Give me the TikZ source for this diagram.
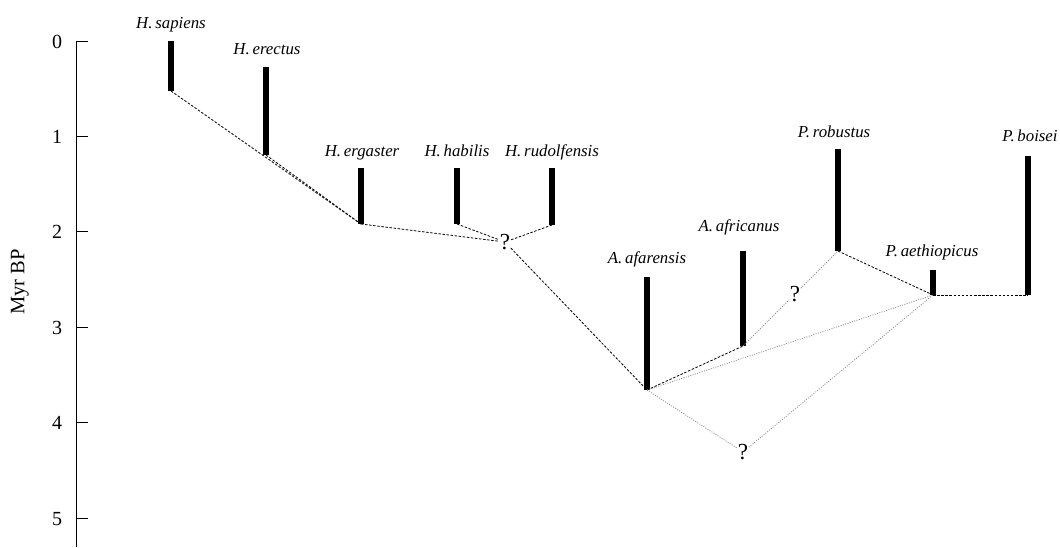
\documentclass[tikz,border=0pt]{standalone}
\usepackage{fontspec}
\setmainfont{Liberation Serif}
\begin{document}
\begin{tikzpicture}[x=1pt,y=-1pt,
  axisline/.style={line width=1pt,black},
  barline/.style={line width=6.5pt,black,line cap=butt},
  lab/.style={font=\fontsize{16.8}{19}\selectfont\itshape,anchor=base,inner sep=0pt},
  ticklab/.style={font=\fontsize{20}{23}\selectfont,anchor=base,inner sep=0pt},
  qmark/.style={font=\fontsize{23}{26}\selectfont,inner sep=0.5pt},
  dashlink/.style={line width=0.8pt,black,dash pattern=on 2.5pt off 1.6pt},
  dotlink/.style={line width=0.8pt,black!45,dash pattern=on 1pt off 1.4pt}]
\useasboundingbox (0,0) rectangle (1060,547);
% axis
\coordinate (axT) at (76,41);
\coordinate (axB) at (76,547);
\draw[axisline] (axT) -- (axB);
\foreach \t/\y in {0/41,1/136.4,2/231.8,3/327.2,4/422.6,5/518}{
  \draw[axisline] (76,\y) -- (88,\y);
  \node[ticklab] (tick\t) at (57,\y+7) {\t};
}
\node[font=\fontsize{20.5}{23}\selectfont,rotate=90] (ylab) at (20,282) {Myr BP};
% bars
\draw[barline] (171,41) -- (171,91) coordinate (sapB);
\draw[barline] (266,67) -- (266,155) coordinate (ereB);
\draw[barline] (361,168) -- (361,224) coordinate (ergB);
\draw[barline] (457,168) -- (457,224) coordinate (habB);
\draw[barline] (552,168) -- (552,225) coordinate (rudB);
\draw[barline] (647,277) -- (647,390) coordinate (afaB);
\draw[barline] (743,251) -- (743,346) coordinate (afrB);
\draw[barline] (838,149) -- (838,251) coordinate (robB);
\draw[barline] (933,270) -- (933,295) coordinate (aetB);
\draw[barline] (1028,156) -- (1028,295) coordinate (boiB);
% labels
\node[lab] (lsap) at (171,28) {H.\,sapiens};
\node[lab] (lere) at (267,54) {H.\,erectus};
\node[lab] (lerg) at (362,156) {H.\,ergaster};
\node[lab] (lhab) at (457,156) {H.\,habilis};
\node[lab] (lrud) at (552,156) {H.\,rudolfensis};
\node[lab] (lafa) at (647,263) {A.\,afarensis};
\node[lab] (lafr) at (739,231) {A.\,africanus};
\node[lab] (lrob) at (834,137) {P.\,robustus};
\node[lab] (laet) at (932,256) {P.\,aethiopicus};
\node[lab] (lboi) at (1030,141) {P.\,boisei};
% question marks
\node[qmark] (q1) at (505,242) {?};
\node[qmark] (q2) at (795,294) {?};
\node[qmark] (q3) at (743,452) {?};
% dashed connectors
\draw[dashlink] (sapB) -- (ergB);
\draw[dashlink] (ereB) -- (ergB);
\draw[dashlink] (ergB) -- (q1);
\draw[dashlink] (habB) -- (q1);
\draw[dashlink] (rudB) -- (q1);
\draw[dashlink] (q1) -- (afaB);
\draw[dashlink] (afaB) -- (afrB);
\draw[dashlink] (robB) -- (aetB);
\draw[dashlink] (aetB) -- (boiB);
% dotted connectors
\draw[dotlink] (afrB) -- (q2);
\draw[dotlink] (q2) -- (robB);
\draw[dotlink] (afaB) -- (aetB);
\draw[dotlink] (afaB) -- (q3);
\draw[dotlink] (q3) -- (aetB);
\end{tikzpicture}
\end{document}
